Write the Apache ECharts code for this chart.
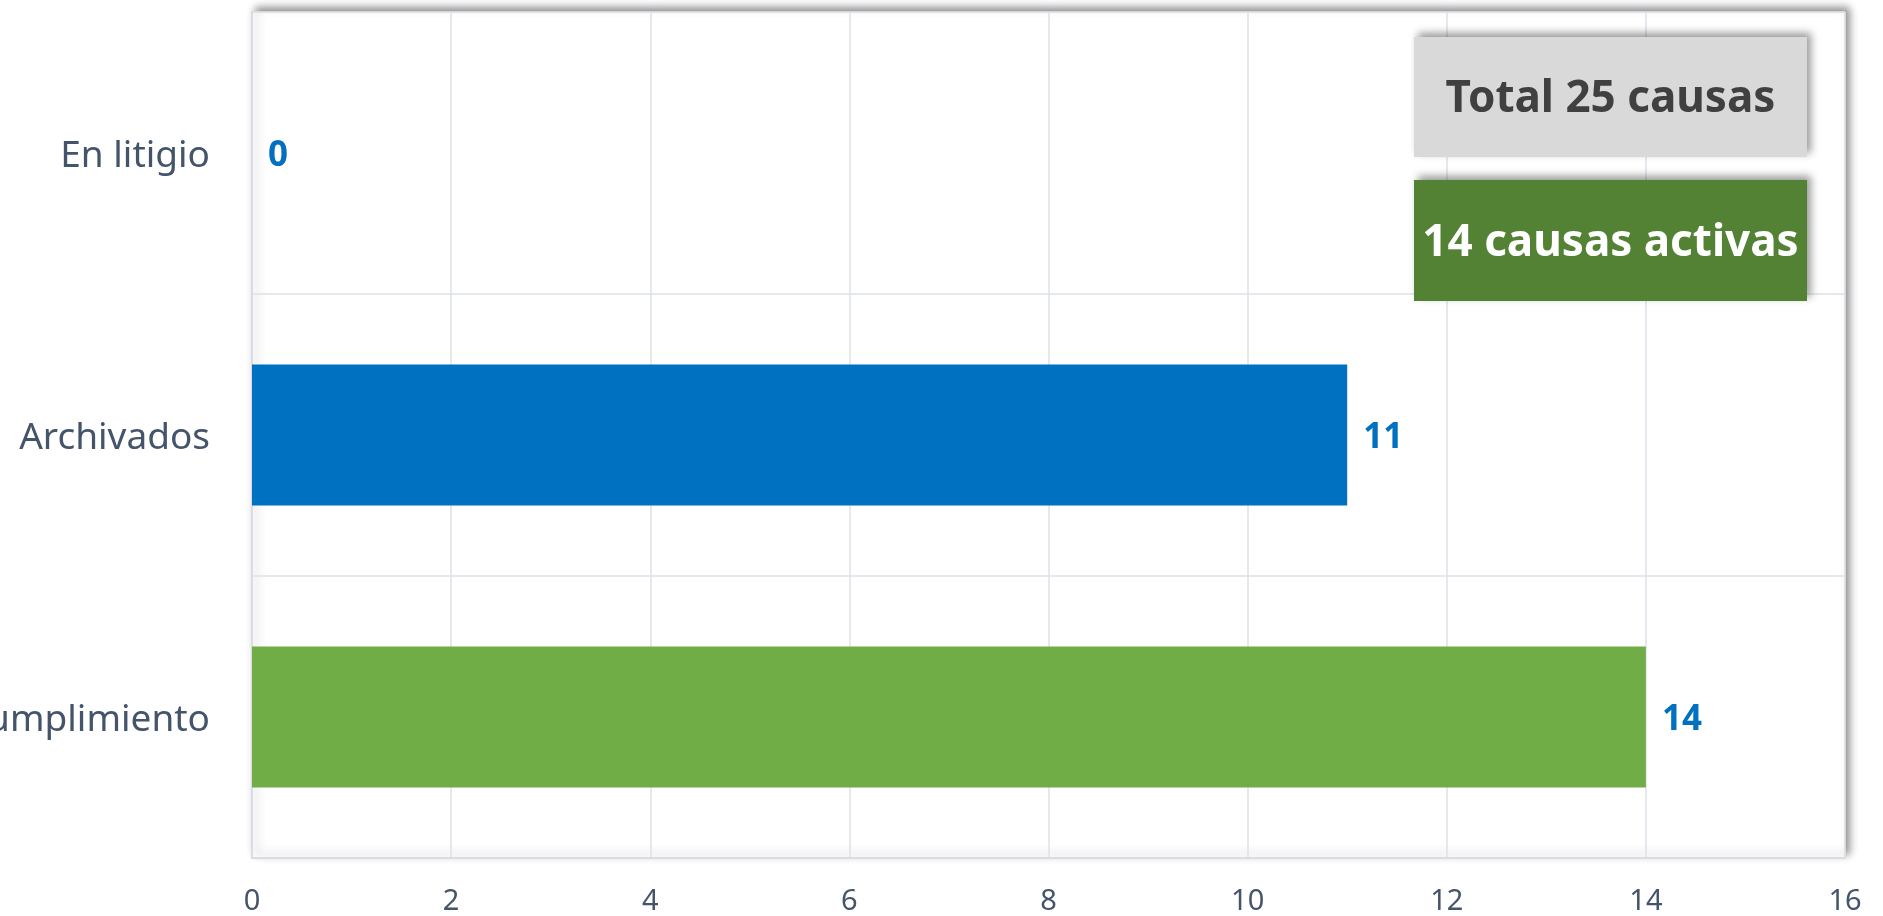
<!DOCTYPE html>
<html>
<head>
<meta charset="utf-8">
<script src="https://cdn.jsdelivr.net/npm/echarts@6/dist/echarts.min.js"></script>
<style>
html,body{margin:0;padding:0;background:#fff;}
#chart{width:1883px;height:916px;}
</style>
</head>
<body>
<div id="chart"></div>
<script>
// ---- data ----
const categories = ['En litigio', 'Archivados', 'En cumplimiento'];
const values = [0, 11, 14];
const barColors = ['#0070C0', '#0070C0', '#70AD47'];
const xTicks = { min: 0, max: 16, interval: 2 };
const boxTexts = ['Total 25 causas', '14 causas activas'];

const chart = echarts.init(document.getElementById('chart'), null, { renderer: 'canvas' });
const FONT = '"Noto Sans", "Open Sans", sans-serif';

const option = {
  backgroundColor: '#ffffff',
  animation: false,
  grid: {
    left: 252, right: 38, top: 12, bottom: 58,
    containLabel: false,
    outerBoundsMode: 'none',
    show: true,
    backgroundColor: '#ffffff',
    borderColor: '#D9D9D9',
    borderWidth: 1,
    shadowColor: 'rgba(0,0,0,0.45)',
    shadowBlur: 8,
    shadowOffsetX: 4,
    shadowOffsetY: -4
  },
  xAxis: {
    type: 'value',
    min: xTicks.min, max: xTicks.max, interval: xTicks.interval,
    axisLine: { show: true, lineStyle: { color: '#D9DDE3', width: 2 } },
    axisTick: { show: false },
    axisLabel: { color: '#44546A', fontFamily: FONT, fontSize: 29, margin: 29 },
    splitLine: { show: true, lineStyle: { color: '#DDE2E8', width: 1.5 } }
  },
  yAxis: {
    type: 'category',
    data: categories,
    inverse: true,
    axisLine: { show: true, lineStyle: { color: '#D9DDE3', width: 2 } },
    axisTick: { show: false },
    axisLabel: {
      color: '#44546A', fontFamily: FONT, fontSize: 37, margin: 42,
      formatter: v => '{c|' + v + '}',
      rich: { c: { color: '#44546A', fontFamily: FONT, fontSize: 37, padding: [6, 0, 0, 0] } }
    },
    splitLine: { show: true, lineStyle: { color: '#DDE2E8', width: 1.5 } }
  },
  series: [{
    type: 'bar',
    data: values.map((v, i) => ({ value: v, itemStyle: { color: barColors[i] } })),
    barCategoryGap: '50%',
    label: {
      show: true,
      position: 'right',
      distance: 16,
      offset: [0, 3],
      color: '#0070C0',
      fontFamily: FONT,
      fontWeight: 'bold',
      fontSize: 35
    }
  }],
  graphic: [
    {
      type: 'group', left: 1414, top: 37, z: 100,
      children: [
        { type: 'rect', z: 100, shape: { x: 0, y: 0, width: 393, height: 120 },
          style: { fill: '#D9D9D9', shadowBlur: 8, shadowColor: 'rgba(0,0,0,0.4)', shadowOffsetX: 4, shadowOffsetY: -4 } },
        { type: 'text', z: 101, x: 196.5, y: 62,
          style: { text: boxTexts[0], fill: '#404040', font: 'bold 44px ' + FONT, textAlign: 'center', textVerticalAlign: 'middle' } }
      ]
    },
    {
      type: 'group', left: 1414, top: 180, z: 100,
      children: [
        { type: 'rect', z: 100, shape: { x: 0, y: 0, width: 393, height: 121 },
          style: { fill: '#548235', shadowBlur: 8, shadowColor: 'rgba(0,0,0,0.4)', shadowOffsetX: 4, shadowOffsetY: -4 } },
        { type: 'text', z: 101, x: 196.5, y: 63,
          style: { text: boxTexts[1], fill: '#ffffff', font: 'bold 44px ' + FONT, textAlign: 'center', textVerticalAlign: 'middle' } }
      ]
    }
  ]
};
chart.setOption(option);
</script>
</body>
</html>
